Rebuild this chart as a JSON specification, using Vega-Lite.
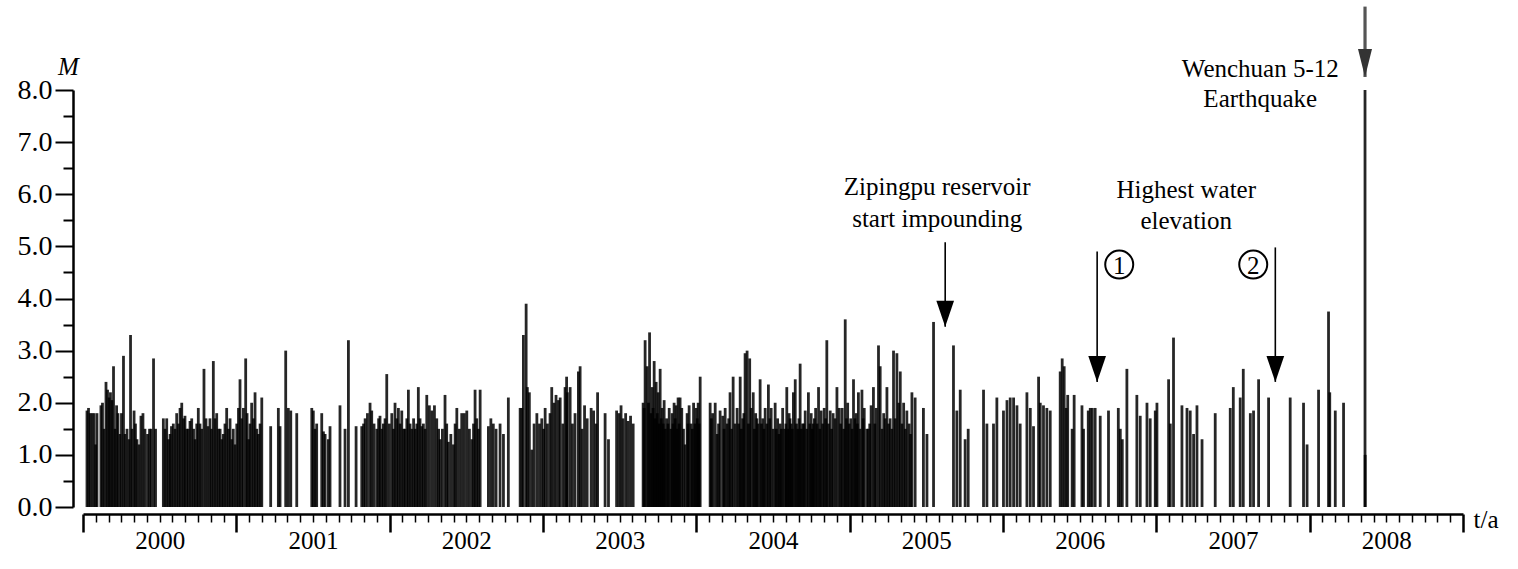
{
"$schema": "https://vega.github.io/schema/vega-lite/v6.json",
"width": 1380, "height": 417,
"autosize": {"type": "none"},
"padding": {"left": 83, "top": 90, "right": 55, "bottom": 62},
"background": "#ffffff",
"config": {"view": {"stroke": null}, "axis": {"grid": false, "labelFont": "Liberation Serif", "titleFont": "Liberation Serif", "labelColor": "#000", "titleColor": "#000", "domainColor": "#000", "tickColor": "#000"}},
"datasets": {
"q": [
{"t":2000.026,"m":1.85},{"t":2000.036,"m":1.9},{"t":2000.046,"m":1.8},{"t":2000.059,"m":1.8},{"t":2000.072,"m":1.8},{"t":2000.082,"m":1.2},{"t":2000.091,"m":1.8},{"t":2000.117,"m":1.95},{"t":2000.127,"m":2.0},{"t":2000.137,"m":1.5},{"t":2000.150,"m":2.4},{"t":2000.160,"m":2.25},{"t":2000.170,"m":2.1},{"t":2000.179,"m":2.2},{"t":2000.189,"m":2.05},{"t":2000.199,"m":2.7},{"t":2000.209,"m":1.5},{"t":2000.219,"m":1.95},{"t":2000.228,"m":1.8},{"t":2000.241,"m":1.4},{"t":2000.251,"m":1.8},{"t":2000.264,"m":2.9},{"t":2000.274,"m":1.4},{"t":2000.287,"m":1.5},{"t":2000.300,"m":1.3},{"t":2000.310,"m":3.3},{"t":2000.320,"m":1.5},{"t":2000.333,"m":1.85},{"t":2000.342,"m":1.6},{"t":2000.352,"m":1.3},{"t":2000.365,"m":1.2},{"t":2000.378,"m":1.75},{"t":2000.391,"m":1.8},{"t":2000.404,"m":1.5},{"t":2000.421,"m":1.4},{"t":2000.434,"m":1.5},{"t":2000.444,"m":1.5},{"t":2000.460,"m":2.85},{"t":2000.473,"m":1.5},
{"t":2000.524,"m":1.7},{"t":2000.535,"m":1.5},{"t":2000.546,"m":1.7},{"t":2000.558,"m":1.3},{"t":2000.568,"m":1.4},{"t":2000.577,"m":1.55},{"t":2000.589,"m":1.6},{"t":2000.600,"m":1.5},{"t":2000.611,"m":1.8},{"t":2000.623,"m":1.6},{"t":2000.633,"m":1.9},{"t":2000.644,"m":2.0},{"t":2000.656,"m":1.7},{"t":2000.665,"m":1.75},{"t":2000.676,"m":1.5},{"t":2000.687,"m":1.5},{"t":2000.698,"m":1.65},{"t":2000.709,"m":1.7},{"t":2000.721,"m":1.5},{"t":2000.731,"m":1.3},{"t":2000.742,"m":1.6},{"t":2000.752,"m":1.9},{"t":2000.763,"m":1.6},{"t":2000.774,"m":1.5},{"t":2000.789,"m":2.65},{"t":2000.802,"m":1.7},{"t":2000.815,"m":1.55},{"t":2000.828,"m":1.7},{"t":2000.838,"m":1.5},{"t":2000.850,"m":2.8},{"t":2000.861,"m":1.7},{"t":2000.872,"m":1.8},{"t":2000.884,"m":1.5},{"t":2000.894,"m":1.5},{"t":2000.905,"m":1.3},{"t":2000.915,"m":1.4},{"t":2000.926,"m":1.6},{"t":2000.937,"m":1.9},{"t":2000.949,"m":1.5},{"t":2000.959,"m":1.7},{"t":2000.970,"m":1.3},{"t":2000.980,"m":1.5},{"t":2000.992,"m":1.2},{"t":2001.003,"m":1.6},{"t":2001.014,"m":1.9},{"t":2001.024,"m":2.45},{"t":2001.035,"m":1.7},{"t":2001.046,"m":1.9},{"t":2001.061,"m":2.85},{"t":2001.070,"m":1.8},{"t":2001.080,"m":1.3},{"t":2001.089,"m":1.6},{"t":2001.100,"m":2.0},{"t":2001.112,"m":1.7},{"t":2001.122,"m":2.2},{"t":2001.133,"m":1.5},{"t":2001.144,"m":1.4},{"t":2001.155,"m":1.6},{"t":2001.166,"m":2.1},
{"t":2001.224,"m":1.55},{"t":2001.274,"m":1.9},{"t":2001.285,"m":1.55},{"t":2001.322,"m":3.0},{"t":2001.339,"m":1.9},{"t":2001.355,"m":1.85},{"t":2001.394,"m":1.8},
{"t":2001.492,"m":1.9},{"t":2001.502,"m":1.85},{"t":2001.513,"m":1.5},{"t":2001.524,"m":1.6},{"t":2001.557,"m":1.8},{"t":2001.568,"m":1.45},{"t":2001.579,"m":1.4},{"t":2001.600,"m":1.3},{"t":2001.611,"m":1.55},{"t":2001.676,"m":1.95},{"t":2001.709,"m":1.5},{"t":2001.731,"m":3.2},
{"t":2001.781,"m":1.55},{"t":2001.818,"m":1.55},{"t":2001.830,"m":1.6},{"t":2001.840,"m":1.7},{"t":2001.855,"m":1.8},{"t":2001.872,"m":2.0},{"t":2001.883,"m":1.85},{"t":2001.898,"m":1.6},{"t":2001.916,"m":1.5},{"t":2001.928,"m":1.7},{"t":2001.937,"m":1.75},{"t":2001.948,"m":1.5},{"t":2001.959,"m":1.6},{"t":2001.970,"m":1.7},{"t":2001.981,"m":2.55},{"t":2001.998,"m":1.6},{"t":2002.014,"m":1.8},{"t":2002.025,"m":1.5},{"t":2002.035,"m":2.0},{"t":2002.046,"m":1.7},{"t":2002.057,"m":1.9},{"t":2002.068,"m":1.6},{"t":2002.079,"m":1.85},{"t":2002.091,"m":1.5},{"t":2002.100,"m":1.5},{"t":2002.112,"m":1.7},{"t":2002.122,"m":2.25},{"t":2002.133,"m":1.6},{"t":2002.144,"m":1.5},{"t":2002.156,"m":1.7},{"t":2002.166,"m":1.5},{"t":2002.177,"m":1.6},{"t":2002.187,"m":2.3},{"t":2002.198,"m":1.7},{"t":2002.209,"m":1.55},{"t":2002.220,"m":1.6},{"t":2002.231,"m":1.5},{"t":2002.242,"m":2.15},{"t":2002.259,"m":1.95},{"t":2002.275,"m":1.85},{"t":2002.292,"m":1.95},{"t":2002.307,"m":1.7},{"t":2002.319,"m":1.5},{"t":2002.329,"m":1.3},{"t":2002.344,"m":1.5},{"t":2002.361,"m":2.15},{"t":2002.372,"m":1.6},{"t":2002.383,"m":1.25},{"t":2002.399,"m":1.4},{"t":2002.416,"m":1.2},{"t":2002.427,"m":1.6},{"t":2002.438,"m":1.9},{"t":2002.455,"m":1.5},{"t":2002.470,"m":1.8},{"t":2002.487,"m":1.8},{"t":2002.503,"m":1.85},{"t":2002.520,"m":1.5},{"t":2002.536,"m":1.3},{"t":2002.547,"m":1.6},{"t":2002.557,"m":2.25},{"t":2002.568,"m":1.7},{"t":2002.579,"m":1.5},{"t":2002.590,"m":2.25},
{"t":2002.644,"m":1.55},{"t":2002.660,"m":1.7},{"t":2002.676,"m":1.6},{"t":2002.694,"m":1.5},{"t":2002.720,"m":1.6},{"t":2002.742,"m":1.4},{"t":2002.774,"m":2.1},
{"t":2002.851,"m":1.9},{"t":2002.862,"m":1.9},{"t":2002.872,"m":3.3},{"t":2002.890,"m":3.9},{"t":2002.898,"m":2.3},{"t":2002.911,"m":2.2},{"t":2002.927,"m":1.1},{"t":2002.942,"m":1.6},{"t":2002.960,"m":1.8},{"t":2002.977,"m":1.6},{"t":2002.992,"m":1.7},{"t":2003.004,"m":1.5},{"t":2003.014,"m":1.9},{"t":2003.029,"m":1.6},{"t":2003.046,"m":1.8},{"t":2003.057,"m":2.3},{"t":2003.072,"m":2.0},{"t":2003.085,"m":2.15},{"t":2003.101,"m":2.05},{"t":2003.112,"m":2.1},{"t":2003.129,"m":1.6},{"t":2003.144,"m":2.3},{"t":2003.154,"m":2.5},{"t":2003.159,"m":2.2},{"t":2003.177,"m":2.3},{"t":2003.192,"m":1.6},{"t":2003.209,"m":1.8},{"t":2003.231,"m":2.6},{"t":2003.242,"m":2.7},{"t":2003.255,"m":1.5},{"t":2003.271,"m":1.95},{"t":2003.288,"m":1.7},{"t":2003.314,"m":1.9},{"t":2003.330,"m":1.85},{"t":2003.346,"m":1.6},{"t":2003.356,"m":2.2},
{"t":2003.405,"m":1.8},{"t":2003.427,"m":1.3},{"t":2003.480,"m":1.85},{"t":2003.496,"m":1.8},{"t":2003.509,"m":1.95},{"t":2003.522,"m":1.7},{"t":2003.539,"m":1.8},{"t":2003.555,"m":1.65},{"t":2003.571,"m":1.75},{"t":2003.588,"m":1.6},{"t":2003.653,"m":2.0},{"t":2003.666,"m":3.2},{"t":2003.679,"m":2.7},{"t":2003.695,"m":3.35},{"t":2003.712,"m":2.3},{"t":2003.725,"m":2.8},{"t":2003.738,"m":2.4},{"t":2003.751,"m":2.2},{"t":2003.764,"m":2.65},{"t":2003.777,"m":1.9},{"t":2003.790,"m":2.05},{"t":2003.806,"m":1.7},{"t":2003.823,"m":1.9},{"t":2003.842,"m":1.8},{"t":2003.855,"m":2.0},{"t":2003.868,"m":1.95},{"t":2003.881,"m":2.1},{"t":2003.894,"m":2.1},{"t":2003.905,"m":1.9},{"t":2003.927,"m":1.2},{"t":2003.940,"m":1.8},{"t":2003.953,"m":1.95},{"t":2003.966,"m":1.6},{"t":2003.982,"m":2.0},{"t":2003.999,"m":1.9},{"t":2004.012,"m":2.0},{"t":2004.025,"m":2.5},
{"t":2004.090,"m":2.0},{"t":2004.106,"m":1.8},{"t":2004.123,"m":2.0},{"t":2004.136,"m":1.4},{"t":2004.155,"m":1.85},{"t":2004.172,"m":1.75},{"t":2004.188,"m":1.9},{"t":2004.201,"m":1.6},{"t":2004.220,"m":2.2},{"t":2004.240,"m":2.5},{"t":2004.253,"m":1.6},{"t":2004.266,"m":1.9},{"t":2004.286,"m":2.5},{"t":2004.302,"m":1.7},{"t":2004.318,"m":2.95},{"t":2004.331,"m":3.0},{"t":2004.348,"m":2.85},{"t":2004.358,"m":1.9},{"t":2004.371,"m":2.2},{"t":2004.387,"m":1.8},{"t":2004.403,"m":1.6},{"t":2004.416,"m":2.45},{"t":2004.433,"m":1.7},{"t":2004.449,"m":1.9},{"t":2004.470,"m":2.35},{"t":2004.488,"m":1.9},{"t":2004.501,"m":1.5},{"t":2004.514,"m":2.0},{"t":2004.530,"m":1.7},{"t":2004.547,"m":1.6},{"t":2004.563,"m":1.9},{"t":2004.576,"m":1.5},{"t":2004.590,"m":2.3},{"t":2004.605,"m":1.8},{"t":2004.618,"m":1.6},{"t":2004.633,"m":2.2},{"t":2004.645,"m":2.45},{"t":2004.661,"m":1.5},{"t":2004.677,"m":2.75},{"t":2004.693,"m":1.6},{"t":2004.710,"m":1.85},{"t":2004.731,"m":2.2},{"t":2004.749,"m":1.8},{"t":2004.762,"m":1.6},{"t":2004.778,"m":1.9},{"t":2004.797,"m":2.3},{"t":2004.814,"m":1.85},{"t":2004.834,"m":1.9},{"t":2004.851,"m":3.2},{"t":2004.873,"m":1.85},{"t":2004.892,"m":1.8},{"t":2004.917,"m":2.3},{"t":2004.932,"m":1.9},{"t":2004.951,"m":1.9},{"t":2004.971,"m":3.6},{"t":2004.987,"m":2.0},{"t":2005.007,"m":1.7},{"t":2005.025,"m":2.45},{"t":2005.042,"m":1.8},{"t":2005.057,"m":2.2},{"t":2005.080,"m":2.25},{"t":2005.095,"m":1.9},{"t":2005.112,"m":1.5},{"t":2005.131,"m":1.6},{"t":2005.140,"m":1.95},{"t":2005.155,"m":2.3},{"t":2005.173,"m":1.9},{"t":2005.188,"m":3.1},{"t":2005.199,"m":2.7},{"t":2005.222,"m":1.8},{"t":2005.243,"m":2.3},{"t":2005.264,"m":1.7},{"t":2005.286,"m":3.0},{"t":2005.308,"m":2.95},{"t":2005.320,"m":2.0},{"t":2005.330,"m":2.6},{"t":2005.352,"m":2.0},{"t":2005.373,"m":1.85},{"t":2005.388,"m":1.6},{"t":2005.406,"m":2.2},{"t":2005.427,"m":2.1},
{"t":2004.098,"m":1.7},{"t":2004.145,"m":1.6},{"t":2004.181,"m":1.5},{"t":2004.211,"m":1.7},{"t":2004.230,"m":1.5},{"t":2004.276,"m":1.6},{"t":2004.294,"m":1.5},{"t":2004.310,"m":1.8},{"t":2004.340,"m":1.6},{"t":2004.379,"m":1.5},{"t":2004.395,"m":1.7},{"t":2004.425,"m":1.6},{"t":2004.441,"m":1.5},{"t":2004.460,"m":1.6},{"t":2004.479,"m":1.7},{"t":2004.522,"m":1.5},{"t":2004.539,"m":1.4},{"t":2004.555,"m":1.5},{"t":2004.584,"m":1.6},{"t":2004.597,"m":1.5},{"t":2004.611,"m":1.7},{"t":2004.626,"m":1.5},{"t":2004.653,"m":1.6},{"t":2004.669,"m":1.7},{"t":2004.685,"m":1.5},{"t":2004.701,"m":1.6},{"t":2004.720,"m":1.5},{"t":2004.740,"m":1.6},{"t":2004.756,"m":1.5},{"t":2004.770,"m":1.7},{"t":2004.788,"m":1.6},{"t":2004.805,"m":1.5},{"t":2004.824,"m":1.6},{"t":2004.843,"m":1.7},{"t":2004.862,"m":1.6},{"t":2004.882,"m":1.5},{"t":2004.905,"m":1.7},{"t":2004.941,"m":1.6},{"t":2004.961,"m":1.5},{"t":2004.979,"m":1.7},{"t":2004.997,"m":1.6},{"t":2005.016,"m":1.5},{"t":2005.034,"m":1.7},{"t":2005.050,"m":1.6},{"t":2005.068,"m":1.5},{"t":2005.088,"m":1.7},{"t":2005.122,"m":1.5},{"t":2005.164,"m":1.6},{"t":2005.211,"m":1.5},{"t":2005.232,"m":1.7},{"t":2005.254,"m":1.6},{"t":2005.275,"m":1.5},{"t":2005.297,"m":1.7},{"t":2005.341,"m":1.6},{"t":2005.363,"m":1.5},{"t":2005.397,"m":1.4},
{"t":2003.660,"m":1.9},{"t":2003.688,"m":2.0},{"t":2003.704,"m":1.8},{"t":2003.718,"m":1.9},{"t":2003.732,"m":1.7},{"t":2003.745,"m":1.8},{"t":2003.758,"m":1.6},{"t":2003.771,"m":1.7},{"t":2003.784,"m":1.6},{"t":2003.798,"m":1.5},{"t":2003.815,"m":1.6},{"t":2003.833,"m":1.5},{"t":2003.848,"m":1.6},{"t":2003.862,"m":1.7},{"t":2003.875,"m":1.5},{"t":2003.888,"m":1.6},{"t":2003.916,"m":1.5},{"t":2003.946,"m":1.6},{"t":2003.974,"m":1.5},{"t":2003.991,"m":1.6},{"t":2004.006,"m":1.7},{"t":2004.018,"m":1.6},
{"t":2005.481,"m":1.9},{"t":2005.504,"m":1.4},{"t":2005.547,"m":3.55},{"t":2005.677,"m":3.1},{"t":2005.699,"m":1.85},{"t":2005.721,"m":2.25},{"t":2005.753,"m":1.3},{"t":2005.773,"m":1.5},
{"t":2005.873,"m":2.25},{"t":2005.895,"m":1.6},{"t":2005.938,"m":1.6},{"t":2005.960,"m":2.1},{"t":2006.003,"m":1.85},{"t":2006.026,"m":2.05},{"t":2006.047,"m":2.1},{"t":2006.069,"m":2.1},{"t":2006.091,"m":1.95},{"t":2006.112,"m":1.6},{"t":2006.156,"m":2.2},{"t":2006.178,"m":1.9},{"t":2006.199,"m":1.55},{"t":2006.232,"m":2.5},{"t":2006.243,"m":2.0},{"t":2006.264,"m":1.95},{"t":2006.286,"m":1.9},{"t":2006.308,"m":1.85},
{"t":2006.373,"m":2.6},{"t":2006.386,"m":2.85},{"t":2006.399,"m":2.7},{"t":2006.412,"m":1.9},{"t":2006.422,"m":2.15},{"t":2006.451,"m":1.5},{"t":2006.464,"m":2.15},{"t":2006.515,"m":1.95},{"t":2006.525,"m":1.5},{"t":2006.556,"m":1.85},{"t":2006.569,"m":1.9},{"t":2006.582,"m":1.9},{"t":2006.601,"m":1.9},{"t":2006.634,"m":1.75},{"t":2006.688,"m":1.85},{"t":2006.752,"m":1.9},{"t":2006.765,"m":1.5},{"t":2006.778,"m":1.3},{"t":2006.808,"m":2.65},{"t":2006.873,"m":2.15},{"t":2006.895,"m":1.75},{"t":2006.939,"m":2.0},{"t":2006.960,"m":1.7},{"t":2006.993,"m":1.85},{"t":2007.004,"m":2.0},{"t":2007.080,"m":2.45},{"t":2007.091,"m":1.6},{"t":2007.112,"m":3.25},{"t":2007.167,"m":1.95},{"t":2007.200,"m":1.9},{"t":2007.221,"m":1.85},{"t":2007.243,"m":1.4},{"t":2007.265,"m":1.95},{"t":2007.298,"m":1.3},{"t":2007.384,"m":1.8},
{"t":2007.482,"m":1.9},{"t":2007.502,"m":2.3},{"t":2007.547,"m":2.1},{"t":2007.567,"m":2.65},{"t":2007.613,"m":1.8},{"t":2007.634,"m":1.85},{"t":2007.667,"m":2.45},{"t":2007.732,"m":2.1},{"t":2007.873,"m":2.1},{"t":2007.960,"m":2.0},{"t":2007.983,"m":1.2},{"t":2008.058,"m":2.25},{"t":2008.123,"m":3.75},{"t":2008.131,"m":2.2},{"t":2008.167,"m":1.85},{"t":2008.221,"m":2.0},{"t":2008.361,"m":8.0},{"t":2008.362,"m":1.0}
],
"arrows": [{"t":2005.623,"m":5.08,"m2":3.46},{"t":2006.614,"m":4.9,"m2":2.4},{"t":2007.776,"m":4.98,"m2":2.4}],
"wen": [{"t":2008.361,"m":9.6,"m2":8.25}],
"circles": [{"t":2006.758,"m":4.65,"label":"1"},{"t":2007.632,"m":4.65,"label":"2"}],
"notes": [{"t":2005.571,"m":5.98,"label":"Zipingpu reservoir"},{"t":2005.571,"m":5.38,"label":"start impounding"},{"t":2007.195,"m":5.92,"label":"Highest water"},{"t":2007.195,"m":5.33,"label":"elevation"},{"t":2007.678,"m":8.25,"label":"Wenchuan 5-12"},{"t":2007.678,"m":7.67,"label":"Earthquake"}]
},
"encoding": {
"x": {"field": "t", "type": "quantitative", "scale": {"domain": [2000, 2009], "nice": false, "zero": false},
 "axis": {"values": [2000,2000.0833,2000.1667,2000.25,2000.3333,2000.4167,2000.5,2000.5833,2000.6667,2000.75,2000.8333,2000.9167,2001,2001.0833,2001.1667,2001.25,2001.3333,2001.4167,2001.5,2001.5833,2001.6667,2001.75,2001.8333,2001.9167,2002,2002.0833,2002.1667,2002.25,2002.3333,2002.4167,2002.5,2002.5833,2002.6667,2002.75,2002.8333,2002.9167,2003,2003.0833,2003.1667,2003.25,2003.3333,2003.4167,2003.5,2003.5833,2003.6667,2003.75,2003.8333,2003.9167,2004,2004.0833,2004.1667,2004.25,2004.3333,2004.4167,2004.5,2004.5833,2004.6667,2004.75,2004.8333,2004.9167,2005,2005.0833,2005.1667,2005.25,2005.3333,2005.4167,2005.5,2005.5833,2005.6667,2005.75,2005.8333,2005.9167,2006,2006.0833,2006.1667,2006.25,2006.3333,2006.4167,2006.5,2006.5833,2006.6667,2006.75,2006.8333,2006.9167,2007,2007.0833,2007.1667,2007.25,2007.3333,2007.4167,2007.5,2007.5833,2007.6667,2007.75,2007.8333,2007.9167,2008,2008.0833,2008.1667,2008.25,2008.3333,2008.4167,2008.5,2008.5833,2008.6667,2008.75,2008.8333,2008.9167,2009],
  "labelExpr": "datum.value % 1 == 0.5 ? format(floor(datum.value), 'd') : ''",
  "tickSize": {"condition": {"test": "datum.value % 1 == 0", "value": 18}, "value": 8},
  "tickWidth": {"condition": {"test": "datum.value % 1 == 0", "value": 2.5}, "value": 1.5},
  "offset": 7, "domainWidth": 2.5, "labelFontSize": 25, "labelPadding": 6,
  "labelOverlap": false, "labelFlush": false, "labelBound": false,
  "title": "t/a", "titleX": 1390, "titleY": 13, "titleAlign": "left", "titleBaseline": "alphabetic", "titleFontSize": 25, "titleFontWeight": "normal"}},
"y": {"field": "m", "type": "quantitative", "scale": {"domain": [0, 8], "nice": false, "zero": true},
 "axis": {"values": [0,0.5,1,1.5,2,2.5,3,3.5,4,4.5,5,5.5,6,6.5,7,7.5,8],
  "labelExpr": "datum.value % 1 == 0 ? format(datum.value, '.1f') : ''",
  "tickSize": {"condition": {"test": "datum.value % 1 != 0", "value": 10}, "value": 18},
  "tickWidth": 2, "offset": 10, "domainWidth": 2.5, "labelFontSize": 28, "labelPadding": 3,
  "labelOverlap": false, "labelFlush": false, "labelBound": false,
  "title": "M", "titleAngle": 0, "titleX": -5, "titleY": -16, "titleAlign": "center", "titleBaseline": "alphabetic", "titleFontStyle": "italic", "titleFontWeight": "normal", "titleFontSize": 25}}
},
"layer": [
{"data": {"name": "q"}, "mark": {"type": "rule", "strokeWidth": 2.8, "color": "#000", "opacity": 0.85}, "encoding": {"y2": {"datum": 0}}},
{"data": {"name": "arrows"}, "mark": {"type": "rule", "strokeWidth": 1.6, "color": "#000"}, "encoding": {"y2": {"field": "m2"}}},
{"data": {"name": "arrows"}, "mark": {"type": "point", "shape": "M-0.68,-2L0.68,-2L0,0Z", "size": 676, "filled": true, "color": "#000", "opacity": 1}, "encoding": {"y": {"field": "m2", "type": "quantitative"}}},
{"data": {"name": "wen"}, "mark": {"type": "rule", "strokeWidth": 3.2, "color": "#555"}, "encoding": {"y2": {"field": "m2"}}},
{"data": {"name": "wen"}, "mark": {"type": "point", "shape": "M-0.5,-2L0.5,-2L0,0Z", "size": 784, "filled": true, "color": "#333", "opacity": 1}, "encoding": {"y": {"field": "m2", "type": "quantitative"}}},
{"data": {"name": "circles"}, "mark": {"type": "point", "shape": "circle", "size": 784, "filled": false, "strokeWidth": 2, "color": "#000", "opacity": 1}},
{"data": {"name": "circles"}, "mark": {"type": "text", "font": "Liberation Serif", "fontSize": 25, "baseline": "middle", "align": "center", "dy": 1, "color": "#000"}, "encoding": {"text": {"field": "label"}}},
{"data": {"name": "notes"}, "mark": {"type": "text", "font": "Liberation Serif", "fontSize": 25, "baseline": "alphabetic", "align": "center", "color": "#000"}, "encoding": {"text": {"field": "label"}}}
]
}
